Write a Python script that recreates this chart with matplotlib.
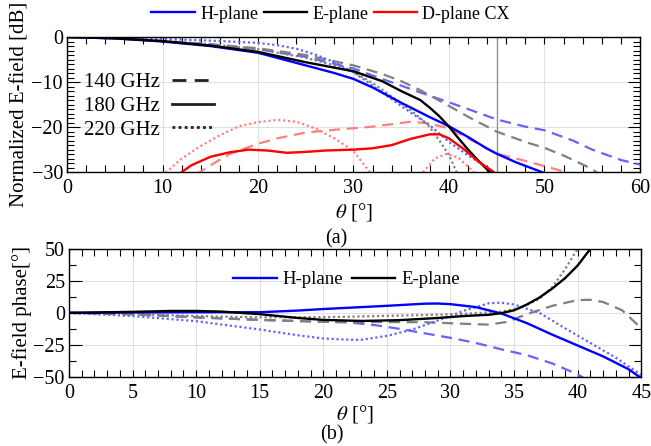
import matplotlib.pyplot as plt
from matplotlib.ticker import MultipleLocator
from matplotlib.lines import Line2D

plt.rcParams['font.family'] = ['Liberation Serif', 'DejaVu Serif']
plt.rcParams['mathtext.fontset'] = 'stix'

# ---- (a) normalized E-field [dB] ----
h180_t = [0, 5, 10, 15, 20, 25, 28, 30, 32, 35, 38, 40, 42, 44, 45, 47, 50]
h180_v = [0, -0.3, -1.0, -2.0, -3.5, -6.3, -8.0, -9.3, -11.2, -14.6, -17.8, -19.8, -22.2, -24.8, -25.9, -27.8, -30.2]
e180_t = [0, 5, 10, 15, 20, 25, 28, 30, 33, 35, 37, 38, 39, 40, 41, 42, 43, 44, 45]
e180_v = [0, -0.3, -0.9, -1.9, -3.3, -5.6, -6.8, -7.6, -9.8, -12.0, -14.0, -15.7, -17.6, -19.9, -22.5, -25.0, -27.3, -29.4, -31.5]
d180_t = [11.5, 12, 13, 15, 17, 19, 21, 23, 25, 27, 30, 32, 34, 36, 38, 39, 40, 41.5, 43, 44.7, 45.2]
d180_v = [-31, -30, -28.5, -26.6, -25.6, -25.0, -25.2, -25.7, -25.5, -25.2, -25.0, -24.7, -24.0, -22.6, -21.6, -21.6, -22.5, -24.8, -27.5, -30, -31]

h140_t = [0, 5, 10, 15, 20, 25, 30, 33, 35, 37, 40, 42, 45, 48, 50, 53, 55, 58, 60]
h140_v = [0, -0.2, -0.9, -1.7, -2.7, -4.4, -7.0, -9.3, -10.8, -12.3, -14.5, -16.0, -18.3, -19.9, -20.7, -23.0, -25.0, -27.3, -28.3]
e140_t = [0, 5, 10, 15, 20, 25, 30, 33, 35, 37, 40, 42, 45, 48, 50, 52, 55, 56]
e140_v = [0, -0.2, -0.9, -1.6, -2.5, -4.0, -6.3, -8.2, -9.8, -11.8, -15.3, -17.7, -21.0, -23.3, -24.6, -26.3, -29.3, -31]
d140_t = [13.5, 13.9, 15, 17, 20, 22, 25, 28, 32, 36, 38, 40, 42, 45, 48, 51.6, 52.5]
d140_v = [-30.6, -30, -28.5, -26.0, -23.7, -22.5, -21.2, -20.6, -19.9, -18.8, -19.2, -20.3, -22.5, -25.9, -27.5, -29.6, -30.5]

h220_t = [0, 5, 10, 15, 20, 22, 24, 26, 28, 30, 32, 34, 36, 38, 40, 42, 44, 45]
h220_v = [0, -0.1, -0.4, -0.8, -1.3, -1.8, -2.6, -3.9, -5.6, -7.8, -10.8, -13.8, -16.8, -19.6, -23.3, -26.3, -28.9, -30.5]
e220_t = [0, 5, 10, 15, 20, 25, 28, 30, 32, 34, 36, 37, 38, 39, 40, 40.8, 41.2]
e220_v = [0, -0.2, -0.8, -1.6, -2.7, -4.6, -6.3, -7.8, -10.2, -13.2, -16.3, -18.0, -20.0, -23.0, -26.2, -30, -32]
d220a_t = [10.0, 10.4, 12, 14, 16, 18, 20, 22, 24, 26, 28, 30, 31.7, 32.2]
d220a_v = [-31, -30, -27.0, -24.2, -21.8, -19.8, -18.9, -18.4, -18.8, -20.3, -22.5, -25.3, -30, -31.5]
d220b_t = [37.0, 37.3, 38.5, 39.8, 41, 42.6, 43]
d220b_v = [-31, -30, -27.0, -25.9, -26.8, -30, -31]

# ---- (b) E-field phase [deg] ----
ph_h180_t = [0, 5, 10, 15, 18, 20, 22, 25, 28, 29, 30, 32, 34, 36, 38, 40, 42, 44, 45]
ph_h180_v = [0, 0.3, 0.5, 0.5, 1.8, 3.0, 4.0, 5.5, 7.2, 7.3, 6.8, 4.5, -0.5, -8, -17, -25.5, -34, -44, -51]
ph_e180_t = [0, 5, 8, 10, 12, 15, 18, 20, 23, 26, 29, 31, 33, 34, 35, 36, 37, 38, 39, 40, 41, 41.5]
ph_e180_v = [0, 0.8, 1.5, 1.5, 1.0, -1, -4, -5.5, -6.3, -5.7, -4.0, -2.5, -1.5, -0.2, 2, 6.5, 12, 19, 27, 37, 50, 56]
ph_h140_t = [0, 5, 10, 15, 20, 22, 24, 26, 28, 30, 32, 34, 36, 38, 40, 40.5]
ph_h140_v = [0, -1, -3.5, -5.5, -7, -7.5, -9.5, -12.5, -16, -19.5, -23.5, -28.5, -33, -39.5, -48, -51]
ph_e140_t = [0, 5, 10, 15, 20, 25, 28, 31, 33, 34.5, 36, 38, 40, 41, 42, 43.5, 45]
ph_e140_v = [0, -1.2, -3.5, -5.5, -7, -7.2, -7.3, -8.5, -9.2, -7, -1, 5.5, 10, 10.2, 8.5, 2, -12]
ph_h220_t = [0, 5, 10, 15, 18, 20, 22, 23, 25, 27, 29, 31, 33, 34, 35, 37, 39, 41, 43, 45]
ph_h220_v = [0, -2.5, -6.5, -13, -17.5, -20, -21, -21, -18, -13, -6, 1.5, 7.5, 8, 6.5, 0, -12, -23.5, -35, -48.5]
ph_e220_t = [0, 5, 10, 15, 20, 22, 25, 28, 31, 34, 35.5, 37, 38, 39, 40, 40.3]
ph_e220_v = [0, -1, -2.5, -3.5, -3.3, -3.0, -2.3, -1.7, -0.8, 1, 4, 11, 20, 34, 50, 55]

blue = '#0000ff'
lblue = '#6464ff'
black = '#000000'
gray = '#808080'
red = '#ff0000'
lred = '#ff8080'

fig = plt.figure(figsize=(6.51, 4.46), dpi=100)
ax1 = fig.add_axes([0.103, 0.614, 0.880, 0.303])
ax2 = fig.add_axes([0.106, 0.155, 0.879, 0.287])

for ax in (ax1, ax2):
    ax.grid(True, which='major', color='#e0e0e0', lw=0.8)
    ax.set_axisbelow(True)
    ax.tick_params(which='both', direction='in', top=True, right=True, labelsize=14.5, width=0.8)
    ax.tick_params(axis='x', which='both', length=5, pad=5)
    ax.tick_params(axis='y', which='major', length=9, pad=3)
    ax.tick_params(axis='y', which='minor', length=5)
    for s in ax.spines.values():
        s.set_linewidth(1.0)

# top panel
ax1.axvline(45, color='#909090', lw=1.0)
ax1.plot(h140_t, h140_v, color=lblue, lw=1.6, ls=(0, (5, 3)))
ax1.plot(e140_t, e140_v, color=gray, lw=1.6, ls=(0, (5, 3)))
ax1.plot(d140_t, d140_v, color=lred, lw=1.6, ls=(0, (5, 3)))
ax1.plot(h220_t, h220_v, color=lblue, lw=1.6, ls=(0, (1, 1.2)))
ax1.plot(e220_t, e220_v, color=gray, lw=1.6, ls=(0, (1, 1.2)))
ax1.plot(d220a_t, d220a_v, color=lred, lw=1.6, ls=(0, (1, 1.2)))
ax1.plot(d220b_t, d220b_v, color=lred, lw=1.6, ls=(0, (1, 1.2)))
l1, = ax1.plot(h180_t, h180_v, color=blue, lw=1.7, label='H-plane')
l2, = ax1.plot(e180_t, e180_v, color=black, lw=1.7, label='E-plane')
l3, = ax1.plot(d180_t, d180_v, color=red, lw=1.7, label='D-plane CX')

ax1.set_xlim(0, 60)
ax1.set_ylim(-30, 0)
ax1.xaxis.set_major_locator(MultipleLocator(10))
ax1.xaxis.set_minor_locator(MultipleLocator(2))
ax1.yaxis.set_major_locator(MultipleLocator(10))
ax1.yaxis.set_minor_locator(MultipleLocator(1))
ax1.set_ylabel('Normalized E-field [dB]', fontsize=15, labelpad=1)
ax1.set_xlabel(r'$\theta$ [°]', fontsize=15, labelpad=2)
ax1.text(0.47, -0.49, '(a)', transform=ax1.transAxes, ha='center', va='center', fontsize=14.5)

fig.legend(handles=[l1, l2, l3], loc='center', bbox_to_anchor=(0.508, 0.968), ncol=3,
           frameon=False, fontsize=13, handlelength=2.4, handletextpad=0.3, columnspacing=0.3)

freq_handles = [Line2D([], [], color='#202020', lw=2, ls=(0, (5, 3))),
                Line2D([], [], color='#202020', lw=2),
                Line2D([], [], color='#202020', lw=2, ls=(0, (1, 1.2)))]
ax1.legend(freq_handles, ['140 GHz', '180 GHz', '220 GHz'], loc='upper left',
           bbox_to_anchor=(0.0, 0.86), frameon=False, markerfirst=False, fontsize=15,
           handlelength=2.0, handletextpad=0.6, labelspacing=0.2, borderpad=0.3)

# bottom panel
ax2.plot(ph_h140_t, ph_h140_v, color=lblue, lw=1.6, ls=(0, (5, 3)))
ax2.plot(ph_e140_t, ph_e140_v, color=gray, lw=1.6, ls=(0, (5, 3)))
ax2.plot(ph_h220_t, ph_h220_v, color=lblue, lw=1.6, ls=(0, (1, 1.2)))
ax2.plot(ph_e220_t, ph_e220_v, color=gray, lw=1.6, ls=(0, (1, 1.2)))
b1, = ax2.plot(ph_h180_t, ph_h180_v, color=blue, lw=1.7, label='H-plane')
b2, = ax2.plot(ph_e180_t, ph_e180_v, color=black, lw=1.7, label='E-plane')

ax2.set_xlim(0, 45)
ax2.set_ylim(-50, 50)
ax2.xaxis.set_major_locator(MultipleLocator(5))
ax2.xaxis.set_minor_locator(MultipleLocator(1))
ax2.yaxis.set_major_locator(MultipleLocator(25))
ax2.yaxis.set_minor_locator(MultipleLocator(12.5))
ax2.set_ylabel('E-field phase[°]', fontsize=15, labelpad=1)
ax2.set_xlabel(r'$\theta$ [°]', fontsize=15, labelpad=0)
ax2.text(0.46, -0.45, '(b)', transform=ax2.transAxes, ha='center', va='center', fontsize=14.5)
ax2.legend(handles=[b1, b2], loc='center', bbox_to_anchor=(0.485, 0.76), ncol=2, frameon=False,
           fontsize=13.5, handlelength=2.3, handletextpad=0.3, columnspacing=0.5)

fig.savefig('out.png', dpi=100)
